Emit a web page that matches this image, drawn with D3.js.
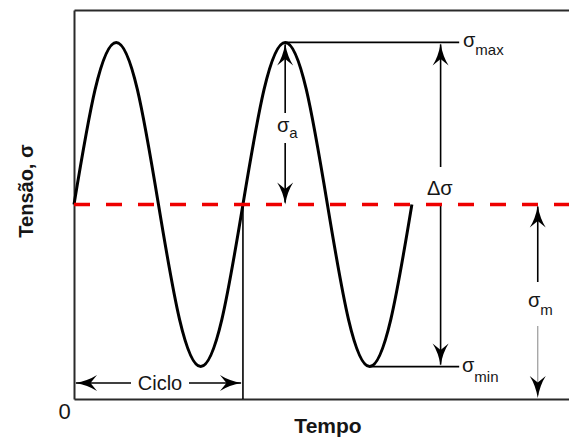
<!DOCTYPE html>
<html>
<head>
<meta charset="utf-8">
<script src="https://cdn.jsdelivr.net/npm/d3@7"></script>
<style>
  html, body { margin: 0; padding: 0; background: #fff; }
  svg { display: block; }
  text { font-family: "Liberation Sans", Arial, sans-serif; fill: #161616; }
</style>
</head>
<body>
<svg id="chart" width="569" height="441"></svg>
<script>
// ---- Data ----
// time in cycles, stress in arbitrary units
const timeCycles   = [0, 0.125, 0.25, 0.375, 0.5, 0.625, 0.75, 0.875, 1,
                      1.125, 1.25, 1.375, 1.5, 1.625, 1.75, 1.875, 2];
const stressValues = [6, 9.55, 11, 9.55, 6, 2.45, 1, 2.45, 6,
                      9.55, 11, 9.55, 6, 2.45, 1, 2.45, 6];
const sigmaMean = 6;
const sigmaMax  = 11;
const sigmaMin  = 1;
const timeDomain   = [0, 2.93];
const stressDomain = [0, 12];
const cycleEnd     = 1;
const peakTime     = 1.25;   // second peak (σa arrow)
const troughTime   = 1.75;   // second trough
const rangeArrowT  = 2.17;   // Δσ arrow
const labelLineT   = 2.28;   // end of σmax / σmin guide lines
const meanArrowT   = 2.745;  // σm arrow

// ---- Layout ----
const svg = d3.select("#chart");
const mLeft = 74, mRight = 569, mTop = 10, mBottom = 399;

const x = d3.scaleLinear().domain(timeDomain).range([mLeft, mRight]);
const y = d3.scaleLinear().domain(stressDomain).range([mBottom, mTop]);

// ---- Frame (axes without ticks) ----
const axisStyle = g => {
  g.selectAll(".domain").attr("stroke", "#2a2a2a").attr("stroke-width", 2);
};
svg.append("g").attr("transform", `translate(0,${mBottom})`)
  .call(d3.axisBottom(x).tickValues([]).tickSizeOuter(0)).call(axisStyle);
svg.append("g").attr("transform", `translate(0,${mTop})`)
  .call(d3.axisTop(x).tickValues([]).tickSizeOuter(0)).call(axisStyle);
svg.append("g").attr("transform", `translate(${mLeft},0)`)
  .call(d3.axisLeft(y).tickValues([]).tickSizeOuter(0)).call(axisStyle);

// ---- Sine wave ----
const wave = d3.line()
  .x((d, i) => x(timeCycles[i]))
  .y(d => y(d))
  .curve(d3.curveNatural);
svg.append("path")
  .attr("d", wave(stressValues))
  .attr("fill", "none")
  .attr("stroke", "#000")
  .attr("stroke-width", 3);

// ---- Cycle marker line ----
svg.append("line")
  .attr("x1", x(cycleEnd)).attr("x2", x(cycleEnd))
  .attr("y1", y(sigmaMean)).attr("y2", mBottom)
  .attr("stroke", "#000").attr("stroke-width", 1.6);

// ---- Guide lines for σmax and σmin ----
svg.append("line")
  .attr("x1", x(peakTime)).attr("x2", x(labelLineT))
  .attr("y1", y(sigmaMax)).attr("y2", y(sigmaMax))
  .attr("stroke", "#000").attr("stroke-width", 1.6);
svg.append("line")
  .attr("x1", x(troughTime)).attr("x2", x(labelLineT))
  .attr("y1", y(sigmaMin)).attr("y2", y(sigmaMin))
  .attr("stroke", "#000").attr("stroke-width", 1.6);

// ---- Arrow helpers ----
function head(px, py, angle) {
  // stealth arrow head, tip at (px,py), pointing in direction angle (deg, 0 = up)
  svg.append("path")
    .attr("d", "M0,0 Q2.2,13 8,22 L0,15.5 L-8,22 Q-2.2,13 0,0 Z")
    .attr("transform", `translate(${px},${py}) rotate(${angle})`)
    .attr("fill", "#000");
}
function seg(x1, y1, x2, y2, color, w) {
  svg.append("line")
    .attr("x1", x1).attr("y1", y1).attr("x2", x2).attr("y2", y2)
    .attr("stroke", color || "#000").attr("stroke-width", w || 1.6);
}

// σa arrow
{
  const ax = x(peakTime);
  seg(ax, y(sigmaMax) + 2, ax, 113);
  seg(ax, 143, ax, y(sigmaMean) - 2);
  head(ax, y(sigmaMax) + 1, 0);
  head(ax, y(sigmaMean), 180);
}
// Δσ arrow
{
  const ax = x(rangeArrowT);
  seg(ax, y(sigmaMax) + 2, ax, 167);
  seg(ax, y(sigmaMean), ax, y(sigmaMin) - 2);
  head(ax, y(sigmaMax) + 1, 0);
  head(ax, y(sigmaMin) - 1, 180);
}
// σm arrow
{
  const ax = x(meanArrowT);
  seg(ax, y(sigmaMean) + 2, ax, 282);
  seg(ax, 326, ax, mBottom - 4, "#9a9a9a", 1.2);
  head(ax, y(sigmaMean) + 1, 0);
  head(ax, mBottom - 1, 180);
}
// Ciclo arrow
{
  const cy = 383;
  seg(x(0) + 2, cy, 131, cy);
  seg(189, cy, x(cycleEnd) - 2, cy);
  head(x(0) + 1, cy, -90);
  head(x(cycleEnd) - 1, cy, 90);
}

// ---- Mean stress dashed line ----
svg.append("line")
  .attr("x1", mLeft).attr("x2", mRight)
  .attr("y1", y(sigmaMean)).attr("y2", y(sigmaMean))
  .attr("stroke", "#ee0000")
  .attr("stroke-width", 3.5)
  .attr("stroke-dasharray", "16,16");

// ---- Text labels ----
function sigmaLabel(tx, ty, sub, subDy) {
  const t = svg.append("text").attr("x", tx).attr("y", ty).attr("font-size", 20);
  t.append("tspan").text("σ");
  t.append("tspan").attr("dy", subDy).attr("font-size", 15).text(sub);
}
sigmaLabel(463, 47, "max", 8);
sigmaLabel(462, 372, "min", 10);
sigmaLabel(277, 132, "a", 6);
sigmaLabel(528, 307, "m", 8);

svg.append("text").attr("x", 427).attr("y", 195).attr("font-size", 20).text("Δσ");

svg.append("text").attr("x", 160).attr("y", 390)
  .attr("text-anchor", "middle").attr("font-size", 20).text("Ciclo");

svg.append("text").attr("x", 64.5).attr("y", 419)
  .attr("text-anchor", "middle").attr("font-size", 22).text("0");

svg.append("text").attr("x", 328).attr("y", 433)
  .attr("text-anchor", "middle").attr("font-size", 21).attr("font-weight", "bold")
  .text("Tempo");

svg.append("text")
  .attr("transform", "translate(33,191) rotate(-90)")
  .attr("text-anchor", "middle").attr("font-size", 20).attr("font-weight", "bold")
  .text("Tensão, σ");
</script>
</body>
</html>
